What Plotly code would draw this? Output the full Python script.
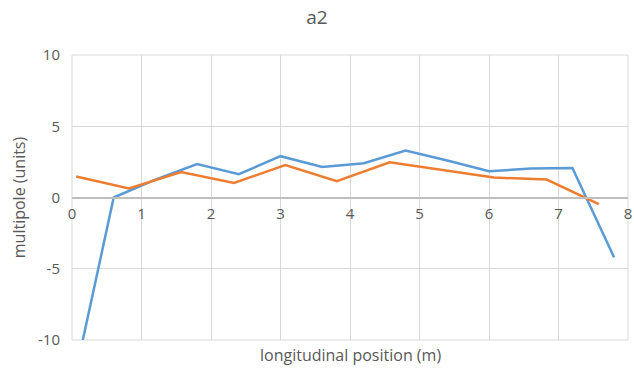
import plotly.graph_objects as go

blue_x = [0.0, 0.6, 1.2, 1.8, 2.4, 3.0, 3.6, 4.2, 4.8, 5.4, 6.0, 6.6, 7.2, 7.8]
blue_y = [-13.5, 0.0, 1.25, 2.35, 1.63, 2.9, 2.14, 2.4, 3.29, 2.6, 1.84, 2.03, 2.07, -4.2]
orange_x = [0.06, 0.82, 1.57, 2.33, 3.07, 3.81, 4.57, 5.32, 6.07, 6.83, 7.58]
orange_y = [1.47, 0.63, 1.79, 1.02, 2.28, 1.14, 2.47, 1.92, 1.4, 1.26, -0.47]

x_ticks = [0, 1, 2, 3, 4, 5, 6, 7, 8]
y_ticks = [-10, -5, 0, 5, 10]
y_tick_labels = ["-10", "-5", "0", "5", "10"]

FONT = "Open Sans"
GREY = "#595959"
GRID = "#d9d9d9"

fig = go.Figure()
fig.add_trace(go.Scatter(x=blue_x, y=blue_y, mode="lines",
                         line=dict(color="#5B9BD5", width=2.5), name="series 1"))
fig.add_trace(go.Scatter(x=orange_x, y=orange_y, mode="lines",
                         line=dict(color="#ED7D31", width=2.5), name="series 2"))

fig.update_layout(
    width=634, height=368,
    margin=dict(l=72, r=2, t=55, b=28),
    paper_bgcolor="white", plot_bgcolor="white",
    showlegend=False,
    font=dict(family=FONT, color=GREY, size=13),
    title=dict(text="a2", x=0.5, xanchor="center", y=0.97, yanchor="top",
               font=dict(family=FONT, size=19, color=GREY)),
    xaxis=dict(range=[0, 8], tickvals=x_ticks, showgrid=True, gridcolor=GRID,
               gridwidth=1, anchor="free", position=0.5, showline=True,
               linecolor="#bfbfbf", linewidth=1.5, zeroline=False, ticks="",
               ticklabeloverflow="allow",
               tickfont=dict(family=FONT, size=15, color=GREY), ticklabelstandoff=3),
    yaxis=dict(range=[-10, 10], tickvals=y_ticks, ticktext=y_tick_labels,
               showgrid=True, gridcolor=GRID,
               gridwidth=1, zeroline=False, ticks="", showline=False,
               tickfont=dict(family=FONT, size=15, color=GREY), ticklabelstandoff=11,
               automargin=False,
               title=dict(text="multipole (units)", standoff=8,
                          font=dict(family=FONT, size=16, color=GREY))),
    shapes=[dict(type="rect", xref="paper", yref="paper", x0=0, y0=0, x1=1, y1=1,
                 line=dict(color=GRID, width=1), layer="below")],
    annotations=[dict(text="longitudinal position (m)", xref="paper", yref="paper",
                      x=0.5, y=0, yshift=-2, xanchor="center", yanchor="top",
                      showarrow=False, font=dict(family=FONT, size=16, color=GREY))],
)

fig.write_html("out.html", config={"displayModeBar": False},
               post_script="document.body.style.margin='0';document.body.style.overflow='hidden';")
